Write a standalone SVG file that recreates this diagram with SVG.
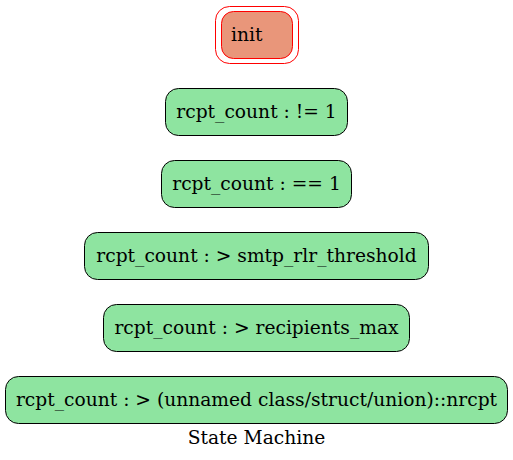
<svg xmlns="http://www.w3.org/2000/svg" width="513" height="460" viewBox="0 0 513 460">
<style>
.s{fill:#8ee4a0;stroke:#000;stroke-width:1}
</style>
<rect width="513" height="460" fill="#fff"/>
<g font-family="DejaVu Serif, serif" font-size="18.67" fill="#000">
<g id="init">
<rect x="215.5" y="6.5" width="83" height="57" rx="14" fill="none" stroke="#f00"/>
<rect x="221.5" y="11.5" width="71" height="47" rx="12" fill="#e9967a" stroke="#f00"/>
<text x="231" y="40.5">init</text>
</g>
<g id="n1"><rect class="s" x="165.5" y="88.5" width="182" height="47" rx="13"/><text x="256.5" y="117.5" text-anchor="middle">rcpt_count : != 1</text></g>
<g id="n2"><rect class="s" x="161.5" y="160.5" width="190" height="47" rx="13"/><text x="256.5" y="189.5" text-anchor="middle">rcpt_count : == 1</text></g>
<g id="n3"><rect class="s" x="84.5" y="232.5" width="344" height="47" rx="13"/><text x="256.5" y="261.5" text-anchor="middle">rcpt_count : &gt; smtp_rlr_threshold</text></g>
<g id="n4"><rect class="s" x="103.5" y="304.5" width="306" height="47" rx="13"/><text x="256.5" y="333.5" text-anchor="middle">rcpt_count : &gt; recipients_max</text></g>
<g id="n5"><rect class="s" x="5.5" y="376.5" width="502" height="47" rx="13"/><text x="256.5" y="405.5" text-anchor="middle">rcpt_count : &gt; (unnamed class/struct/union)::nrcpt</text></g>
<g id="connectors"></g>
<text x="256.5" y="443.5" text-anchor="middle">State Machine</text>
</g>
</svg>
